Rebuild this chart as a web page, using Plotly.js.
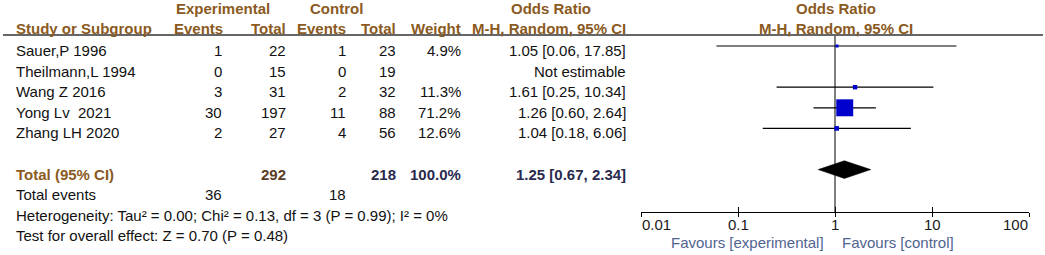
<!DOCTYPE html>
<html><head><meta charset="utf-8">
<script src="https://cdn.plot.ly/plotly-3.0.1.min.js"></script>
<style>html,body{margin:0;padding:0;background:#fff;} #chart{width:1045px;height:255px;}</style>
</head><body><div id="chart"></div>
<script>
// ---- data ----
const studies = ["Sauer,P 1996", "Theilmann,L 1994", "Wang Z 2016", "Yong Lv \u00a02021", "Zhang LH 2020"];
const expEvents = [1, 0, 3, 30, 2];
const expTotal = [22, 15, 31, 197, 27];
const ctrlEvents = [1, 0, 2, 11, 4];
const ctrlTotal = [23, 19, 32, 88, 56];
const weights = [4.9, null, 11.3, 71.2, 12.6];
const orEst = [1.05, null, 1.61, 1.26, 1.04];
const orLow = [0.06, null, 0.25, 0.60, 0.18];
const orHigh = [17.85, null, 10.34, 2.64, 6.06];
const pooledOR = [1.25, 0.67, 2.34];           // estimate, lower, upper
const totalsN = [292, 218];                    // experimental, control
const totalWeight = "100.0%";
const totalEvents = [36, 18];
const heterogeneityText = "Heterogeneity: Tau\u00b2 = 0.00; Chi\u00b2 = 0.13, df = 3 (P = 0.99); I\u00b2 = 0%";
const overallText = "Test for overall effect: Z = 0.70 (P = 0.48)";
const tickVals = [0.01, 0.1, 1, 10, 100];
const tickText = ["0.01", "0.1", "1", "10", "100"];
const favoursLabels = ["Favours [experimental]", "Favours [control]"];

// ---- layout helpers ----
const W = 1045, H = 255;
const ROW0 = 46, ROWH = 20.6;
const FONT = "Liberation Sans, Arial, sans-serif";
const FS = 15;
const HEAD = "#8a5a1e", BODY = "#111111", TOTC = "#2a2a4e", FAV = "#50648f";
const px2paperY = p => 1 - p / H;
const pxRow = p => (p - ROW0) / ROWH;
const TXT_SHIFT = -4.5;

const n = studies.length;
const rows = studies.map((_, i) => i);
const rowTotal = n + 1, rowEvents = n + 2, rowHet = n + 3, rowTest = n + 4;

const ann = [];
function rowText(text, xpx, r, anchor, color, bold) {
  ann.push({xref: 'paper', x: xpx / W, yref: 'y', y: r, yshift: TXT_SHIFT,
    xanchor: anchor, yanchor: 'middle', text: bold ? '<b>' + text + '</b>' : text,
    showarrow: false, borderpad: 0, font: {family: FONT, size: FS, color: color}});
}
function pxText(text, xpx, ypx, anchor, color, bold, size) {
  ann.push({xref: 'paper', x: xpx / W, yref: 'paper', y: px2paperY(ypx),
    xanchor: anchor, yanchor: 'middle', text: bold ? '<b>' + text + '</b>' : text,
    showarrow: false, borderpad: 0, font: {family: FONT, size: size || FS, color: color}});
}

// column right edges
const COL = {study: 15, expE: 223, expT: 287, ctlE: 347, ctlT: 397, wt: 462, or: 627};

// headers
pxText("Experimental", 223, 8, 'center', HEAD, true);
pxText("Control", 336, 8, 'center', HEAD, true);
pxText("Odds Ratio", 551, 8, 'center', HEAD, true);
pxText("Odds Ratio", 836, 8, 'center', HEAD, true);
pxText("Study or Subgroup", COL.study, 28, 'left', HEAD, true);
pxText("Events", COL.expE + 1, 28, 'right', HEAD, true);
pxText("Total", COL.expT, 28, 'right', HEAD, true);
pxText("Events", COL.ctlE, 28, 'right', HEAD, true);
pxText("Total", COL.ctlT, 28, 'right', HEAD, true);
pxText("Weight", COL.wt, 28, 'right', HEAD, true);
pxText("M-H, Random, 95% CI", COL.or, 28, 'right', HEAD, true);
pxText("M-H, Random, 95% CI", 836, 28, 'center', HEAD, true);

// study rows
const fmt = v => v.toFixed(2);
rows.forEach((r, i) => {
  rowText(studies[i], COL.study, r, 'left', BODY);
  rowText(String(expEvents[i]), COL.expE, r, 'right', BODY);
  rowText(String(expTotal[i]), COL.expT, r, 'right', BODY);
  rowText(String(ctrlEvents[i]), COL.ctlE, r, 'right', BODY);
  rowText(String(ctrlTotal[i]), COL.ctlT, r, 'right', BODY);
  if (weights[i] !== null) rowText(weights[i].toFixed(1) + "%", COL.wt, r, 'right', BODY);
  const t = orEst[i] === null ? "Not estimable" : fmt(orEst[i]) + " [" + fmt(orLow[i]) + ", " + fmt(orHigh[i]) + "]";
  rowText(t, COL.or, r, 'right', BODY);
});

// total rows
rowText("Total (95% CI)", COL.study, rowTotal, 'left', HEAD, true);
rowText(String(totalsN[0]), COL.expT, rowTotal, 'right', "#5a3d25", true);
rowText(String(totalsN[1]), COL.ctlT, rowTotal, 'right', TOTC, true);
rowText(totalWeight, COL.wt, rowTotal, 'right', TOTC, true);
rowText(fmt(pooledOR[0]) + " [" + fmt(pooledOR[1]) + ", " + fmt(pooledOR[2]) + "]", COL.or, rowTotal, 'right', TOTC, true);
rowText("Total events", COL.study, rowEvents, 'left', BODY);
rowText(String(totalEvents[0]), COL.expE, rowEvents, 'right', BODY);
rowText(String(totalEvents[1]), COL.ctlE, rowEvents, 'right', BODY);
rowText(heterogeneityText, COL.study, rowHet, 'left', BODY);
rowText(overallText, COL.study, rowTest, 'left', BODY);

// axis tick labels and favours labels (log axis -> log10 positions)
tickVals.forEach((v, i) => {
  const anchor = i === 0 ? 'left' : (i === tickVals.length - 1 ? 'right' : 'center');
  ann.push({xref: 'x', x: Math.log10(v), yref: 'paper', y: px2paperY(224), xanchor: anchor, yanchor: 'middle',
    text: tickText[i], showarrow: false, borderpad: 0, font: {family: FONT, size: FS, color: '#1a1a1a'}});
});
ann.push({xref: 'x', x: 0, xshift: -10, yref: 'paper', y: px2paperY(242), xanchor: 'right', yanchor: 'middle',
  text: favoursLabels[0], showarrow: false, borderpad: 0, font: {family: FONT, size: FS, color: FAV}});
ann.push({xref: 'x', x: 0, xshift: 6, yref: 'paper', y: px2paperY(242), xanchor: 'left', yanchor: 'middle',
  text: favoursLabels[1], showarrow: false, borderpad: 0, font: {family: FONT, size: FS, color: FAV}});

// ---- traces ----
const ciX = [], ciY = [], mX = [], mY = [], mS = [];
rows.forEach((r, i) => {
  if (orEst[i] === null) return;
  ciX.push(orLow[i], orHigh[i], null); ciY.push(r, r, null);
  mX.push(orEst[i]); mY.push(r); mS.push(2 + 0.21 * weights[i]);
});
const dh = 0.43;
const traces = [
  {type: 'scatter', mode: 'lines', x: [1, 1], y: [pxRow(36), pxRow(212)], line: {color: '#000', width: 1}, hoverinfo: 'skip', cliponaxis: false},
  {type: 'scatter', mode: 'lines', x: ciX, y: ciY, line: {color: '#000', width: 1.2}, hoverinfo: 'skip', cliponaxis: false, connectgaps: false},
  {type: 'scatter', mode: 'markers', x: mX, y: mY, marker: {symbol: 'square', size: mS, color: '#0000cc', opacity: 1, line: {width: 0}}, hoverinfo: 'skip', cliponaxis: false},
  {type: 'scatter', mode: 'lines', fill: 'toself', fillcolor: '#000',
    x: [pooledOR[1], pooledOR[0], pooledOR[2], pooledOR[0], pooledOR[1]],
    y: [rowTotal, rowTotal - dh, rowTotal, rowTotal + dh, rowTotal], line: {color: '#000', width: 0.5}, hoverinfo: 'skip', cliponaxis: false},
  {type: 'scatter', mode: 'markers', x: [1], y: [null], xaxis: 'x2', yaxis: 'y', hoverinfo: 'skip', marker: {opacity: 0}}
];

const dom = [641 / W, 1029 / W];
const axPos = (H - 212) / H;
const layout = {
  width: W, height: H, margin: {l: 0, r: 0, t: 0, b: 0},
  paper_bgcolor: '#fff', plot_bgcolor: 'rgba(0,0,0,0)', showlegend: false,
  xaxis: {type: 'log', range: [-2, 2], domain: dom, anchor: 'free', position: axPos,
    showline: true, linecolor: '#000', linewidth: 1, ticks: 'outside', ticklen: 4, tickwidth: 1, tickcolor: '#000',
    tickmode: 'array', tickvals: tickVals, showticklabels: false, showgrid: false, zeroline: false, fixedrange: true},
  xaxis2: {type: 'log', range: [-2, 2], domain: dom, anchor: 'free', position: axPos, overlaying: 'x',
    showline: false, ticks: 'inside', ticklen: 5, tickwidth: 1, tickcolor: '#000',
    tickmode: 'array', tickvals: tickVals, showticklabels: false, showgrid: false, zeroline: false, fixedrange: true},
  yaxis: {range: [pxRow(H), pxRow(0)], domain: [0, 1], visible: false, fixedrange: true},
  shapes: [{type: 'line', xref: 'paper', yref: 'paper', x0: 3 / W, x1: 1043 / W, y0: px2paperY(35), y1: px2paperY(35),
    line: {color: '#333', width: 1.5}}],
  annotations: ann
};
Plotly.newPlot('chart', traces, layout, {staticPlot: true, displayModeBar: false});
</script>
</body></html>
